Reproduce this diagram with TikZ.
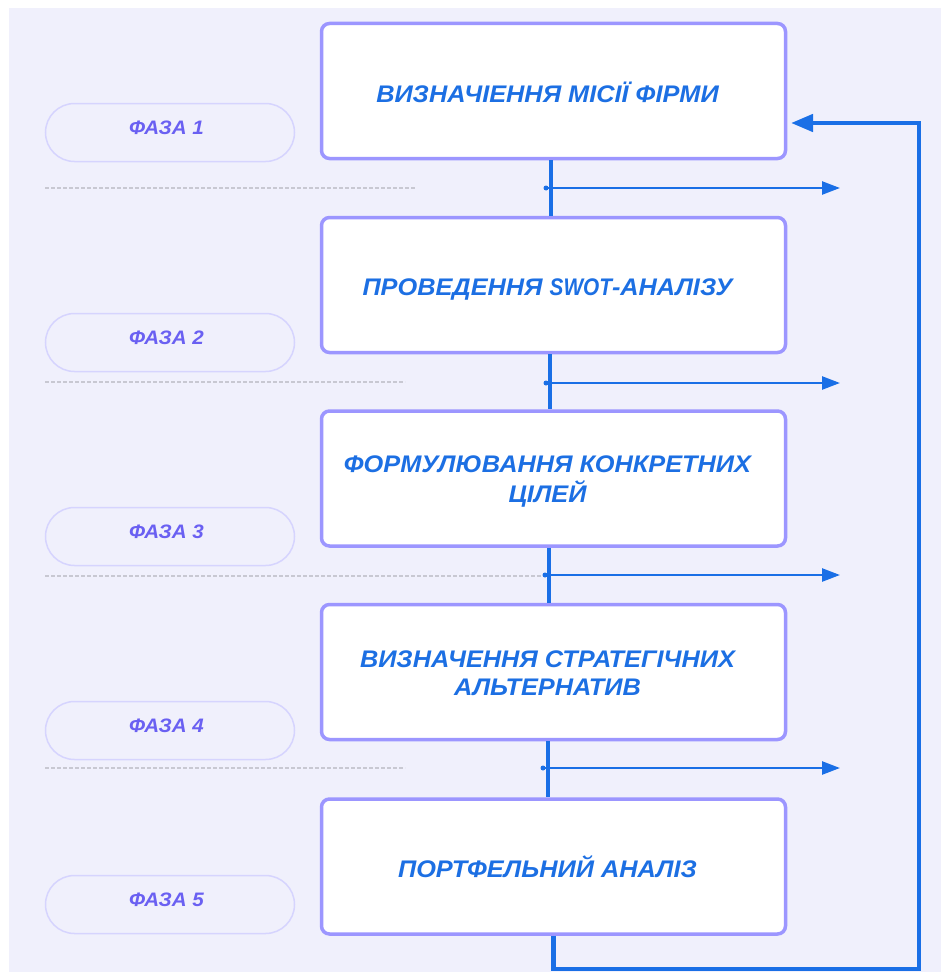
\documentclass[tikz,border=0pt]{standalone}
\usepackage{fontspec}
\usepackage{graphicx}
\setmainfont{Liberation Sans}
\newfontfamily\widefont[FakeStretch=1.055]{Liberation Sans}
\usetikzlibrary{arrows.meta}
\definecolor{bg}{HTML}{F0F0FC}
\definecolor{boxline}{HTML}{9C96FF}
\definecolor{txtblue}{HTML}{1C6FE3}
\definecolor{flow}{HTML}{1A6FE6}
\definecolor{pillline}{HTML}{D6D4FE}
\definecolor{pilltxt}{HTML}{6A60F2}
\definecolor{sepc}{HTML}{C8C8D2}
\newcommand\stagetext[2]{\begin{tabular}{@{}c@{\hspace{12pt}}}\rule{0pt}{#1}#2\end{tabular}}
\begin{document}
\begin{tikzpicture}[x=1pt,y=-1pt,
  stage/.style={draw=boxline, line width=3.5pt, fill=white, rounded corners=8pt,
    minimum width=464pt, minimum height=135pt, inner sep=0pt,
    text=txtblue, font=\widefont\fontsize{24}{28}\selectfont\bfseries\itshape},
  pill/.style={draw=pillline, line width=1.5pt, fill=bg, rounded corners=29pt,
    minimum width=249pt, minimum height=58pt, inner sep=0pt,
    text height=3.4pt, text depth=0pt,
    text=pilltxt, font=\widefont\fontsize{19.5}{22}\selectfont\bfseries\itshape},
  flowline/.style={draw=flow, line width=4pt},
  branch/.style={draw=flow, line width=2.5pt, -{Triangle[length=18pt,width=13pt]}},
  feedback/.style={draw=flow, line width=4.5pt, -{Triangle[length=22pt,width=17pt]}},
  sepline/.style={draw=sepc, line width=2pt, dash pattern=on 4pt off 2pt}]
\useasboundingbox (0,0) rectangle (941,974);
\fill[white] (0,0) rectangle (941,974);
\fill[bg] (9,8) rectangle (941,972);

% separators
\draw[sepline] (45,188) -- (415,188);
\draw[sepline] (45,382) -- (405,382);
\draw[sepline] (45,576) -- (543,576);
\draw[sepline] (45,768) -- (405,768);

% phase pills
\node[pill] (p1) at (170,132.5) {\kern-7pt ФАЗА 1};
\node[pill] (p2) at (170,342.5) {\kern-7pt ФАЗА 2};
\node[pill] (p3) at (170,536.5) {\kern-7pt ФАЗА 3};
\node[pill] (p4) at (170,730.5) {\kern-7pt ФАЗА 4};
\node[pill] (p5) at (170,904.5) {\kern-7pt ФАЗА 5};

% stage boxes
\node[stage] (s1) at (553.5,91) {\stagetext{31pt}{ВИЗНАЧІЕННЯ МІСІЇ ФІРМИ}};
\node[stage] (s2) at (553.5,285) {\stagetext{30pt}{ПРОВЕДЕННЯ \scalebox{0.82}[1]{SWOT}-АНАЛІЗУ}};
\node[stage] (s3) at (553.5,478.5) {\stagetext{26.6pt}{ФОРМУЛЮВАННЯ КОНКРЕТНИХ\\ЦІЛЕЙ}};
\node[stage] (s4) at (553.5,672) {\stagetext{26.6pt}{ВИЗНАЧЕННЯ СТРАТЕГІЧНИХ\\АЛЬТЕРНАТИВ}};
\node[stage] (s5) at (553.5,866.5) {\stagetext{30pt}{ПОРТФЕЛЬНИЙ АНАЛІЗ}};

% vertical connectors
\draw[flowline] ([xshift=-3pt]s1.south) -- ([xshift=-3pt]s2.north);
\draw[flowline] ([xshift=-4pt]s2.south) -- ([xshift=-4pt]s3.north);
\draw[flowline] ([xshift=-4.5pt]s3.south) -- ([xshift=-4.5pt]s4.north);
\draw[flowline] ([xshift=-6pt]s4.south) -- ([xshift=-6pt]s5.north);

% branch arrows
\foreach \i/\y/\x in {1/188/546,2/383/546,3/575/545,4/768/543}{
  \coordinate (j\i) at (\x,\y);
  \coordinate (t\i) at (840,\y);
  \fill[flow] (j\i) circle (2.5pt);
  \draw[branch] (j\i) -- (t\i);
}

% feedback loop
\coordinate (f1) at (553.5,969);
\coordinate (f2) at (919,969);
\coordinate (f3) at (919,123);
\coordinate (f4) at (791,123);
\draw[feedback, line join=miter] (s5.south) -- (f1) -- (f2) -- (f3) -- (f4);
\end{tikzpicture}
\end{document}
